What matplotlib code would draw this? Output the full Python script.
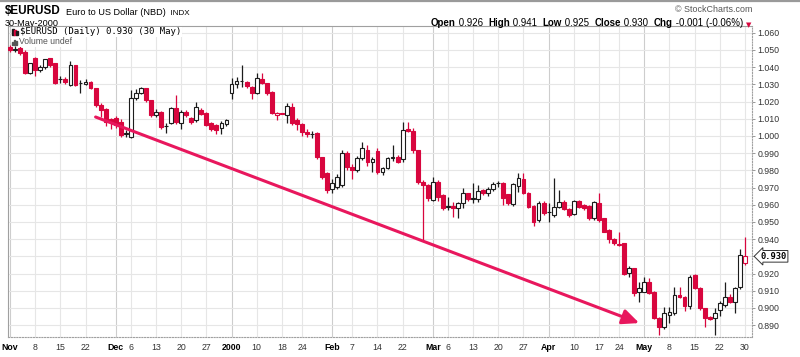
import numpy as np
import pandas as pd
import matplotlib
matplotlib.use('Agg')
import matplotlib.pyplot as plt
from matplotlib.lines import Line2D
from matplotlib.patches import Rectangle

plt.rcParams['font.family'] = ['Liberation Sans', 'DejaVu Sans']

# ---- data ----
holidays = ['1999-11-25', '2000-01-17', '2000-02-21', '2000-04-21', '2000-05-29']
dates = pd.bdate_range('1999-11-01', '2000-05-30', freq='C', holidays=holidays)

opens = [1.0519, 1.0500, 1.0510, 1.0490, 1.0368, 1.0451, 1.0384, 1.0399, 1.0451, 1.0422,
         1.0329, 1.0330, 1.0297, 1.0413, 1.0305, 1.0302, 1.0316, 1.0277, 1.0180, 1.0155,
         1.0097, 1.0103, 1.0083, 1.0012, 0.9996, 1.0219, 1.0248, 1.0277, 1.0209, 1.0122,
         1.0141, 1.0056, 1.0074, 1.0161, 1.0074, 1.0141, 1.0103, 1.0093, 1.0151, 1.0132,
         1.0074, 1.0064, 1.0045, 1.0070,
         1.0247, 1.0301, 1.0318, 1.0315, 1.0286, 1.0251, 1.0329, 1.0309, 1.0257, 1.0124,
         1.0133, 1.0121, 1.0170, 1.0092, 1.0067, 1.0025, 1.0011, 1.0015, 0.9879, 0.9782,
         0.9694, 0.9704, 0.9714, 0.9899, 0.9821, 0.9801, 0.9870, 0.9918, 0.9851, 0.9914,
         0.9792, 0.9811, 0.9870, 0.9879, 0.9863, 1.0040, 1.0030, 0.9918, 0.9734, 0.9715,
         0.9628, 0.9734, 0.9657, 0.9589, 0.9590, 0.9579, 0.9608, 0.9666, 0.9631, 0.9631,
         0.9684, 0.9666, 0.9689, 0.9724, 0.9724, 0.9660, 0.9604, 0.9710, 0.9748, 0.9670,
         0.9593, 0.9511, 0.9612,
         0.9555, 0.9540, 0.9589, 0.9618, 0.9573, 0.9546, 0.9624, 0.9598, 0.9592, 0.9521,
         0.9608, 0.9521, 0.9453, 0.9399, 0.9365, 0.9375, 0.9201, 0.9230, 0.9094,
         0.9094, 0.9152, 0.9094, 0.8939, 0.8891, 0.8960, 0.8968, 0.9075, 0.9065, 0.9011,
         0.9191, 0.9114, 0.8997, 0.8945, 0.8939, 0.8988, 0.9017, 0.9065, 0.9036, 0.9120,
         0.9260]
highs = [1.0530, 1.0520, 1.0520, 1.0500, 1.0425, 1.0460, 1.0410, 1.0450, 1.0455, 1.0425,
         1.0350, 1.0340, 1.0438, 1.0415, 1.0325, 1.0330, 1.0320, 1.0280, 1.0190, 1.0165,
         1.0105, 1.0115, 1.0100, 1.0035, 1.0267, 1.0270, 1.0285, 1.0280, 1.0210, 1.0155,
         1.0145, 1.0075, 1.0170, 1.0238, 1.0150, 1.0150, 1.0110, 1.0195, 1.0160, 1.0140,
         1.0080, 1.0070, 1.0085, 1.0100,
         1.0334, 1.0345, 1.0412, 1.0320, 1.0290, 1.0364, 1.0364, 1.0310, 1.0260, 1.0141,
         1.0135, 1.0189, 1.0189, 1.0105, 1.0075, 1.0040, 1.0030, 1.0020, 0.9880, 0.9790,
         0.9752, 0.9780, 0.9918, 0.9910, 0.9835, 0.9885, 0.9965, 0.9945, 0.9880, 0.9930,
         0.9820, 0.9880, 0.9947, 0.9890, 1.0083, 1.0083, 1.0045, 0.9920, 0.9745, 0.9720,
         0.9760, 0.9745, 0.9660, 0.9647, 0.9618, 0.9618, 0.9695, 0.9670, 0.9724, 0.9715,
         0.9690, 0.9705, 0.9735, 0.9738, 0.9730, 0.9665, 0.9725, 0.9782, 0.9786, 0.9675,
         0.9600, 0.9620, 0.9620,
         0.9608, 0.9753, 0.9686, 0.9625, 0.9580, 0.9630, 0.9630, 0.9605, 0.9600, 0.9620,
         0.9666, 0.9525, 0.9460, 0.9405, 0.9443, 0.9380, 0.9245, 0.9235, 0.9152,
         0.9182, 0.9172, 0.9100, 0.8945, 0.9006, 0.9006, 0.9124, 0.9124, 0.9070, 0.9191,
         0.9195, 0.9120, 0.9000, 0.8955, 0.8997, 0.9040, 0.9149, 0.9080, 0.9120, 0.9340,
         0.9410]
lows = [1.0490, 1.0490, 1.0470, 1.0360, 1.0360, 1.0350, 1.0370, 1.0390, 1.0400, 1.0300,
        1.0310, 1.0300, 1.0290, 1.0290, 1.0248, 1.0295, 1.0270, 1.0170, 1.0110, 1.0060,
        1.0040, 1.0045, 0.9995, 0.9995, 0.9990, 1.0210, 1.0245, 1.0200, 1.0110, 1.0110,
        1.0040, 1.0015, 1.0070, 1.0070, 1.0040, 1.0110, 1.0070, 1.0080, 1.0120, 1.0055,
        1.0030, 1.0010, 1.0010, 1.0060,
        1.0212, 1.0280, 1.0286, 1.0280, 1.0212, 1.0245, 1.0300, 1.0240, 1.0130, 1.0090,
        1.0125, 1.0073, 1.0065, 1.0035, 1.0000, 0.9995, 0.9990, 0.9865, 0.9750, 0.9670,
        0.9666, 0.9690, 0.9704, 0.9800, 0.9750, 0.9790, 0.9860, 0.9825, 0.9793, 0.9780,
        0.9770, 0.9805, 0.9855, 0.9840, 0.9850, 1.0025, 0.9900, 0.9720, 0.9395, 0.9620,
        0.9620, 0.9620, 0.9570, 0.9571, 0.9531, 0.9521, 0.9579, 0.9620, 0.9608, 0.9618,
        0.9655, 0.9650, 0.9680, 0.9705, 0.9600, 0.9600, 0.9595, 0.9676, 0.9660, 0.9580,
        0.9476, 0.9500, 0.9540,
        0.9501, 0.9530, 0.9580, 0.9570, 0.9530, 0.9540, 0.9580, 0.9570, 0.9510, 0.9510,
        0.9500, 0.9440, 0.9380, 0.9365, 0.9360, 0.9190, 0.9180, 0.9070, 0.9036,
        0.9090, 0.9080, 0.8935, 0.8843, 0.8880, 0.8910, 0.8960, 0.9060, 0.8985, 0.8995,
        0.9110, 0.8990, 0.8891, 0.8930, 0.8843, 0.8955, 0.9005, 0.9030, 0.8972, 0.9110,
        0.9250]
closes = [1.0500, 1.0503, 1.0480, 1.0364, 1.0422, 1.0384, 1.0403, 1.0446, 1.0413, 1.0310,
          1.0330, 1.0316, 1.0413, 1.0297, 1.0306, 1.0316, 1.0277, 1.0180, 1.0151, 1.0083,
          1.0080, 1.0064, 1.0006, 1.0015, 1.0219, 1.0248, 1.0277, 1.0209, 1.0122, 1.0141,
          1.0054, 1.0058, 1.0161, 1.0083, 1.0141, 1.0122, 1.0083, 1.0170, 1.0128, 1.0064,
          1.0039, 1.0035, 1.0074, 1.0093,
          1.0301, 1.0319, 1.0320, 1.0292, 1.0247, 1.0334, 1.0309, 1.0251, 1.0135, 1.0132,
          1.0128, 1.0174, 1.0073, 1.0069, 1.0025, 1.0011, 1.0013, 0.9879, 0.9763, 0.9685,
          0.9724, 0.9763, 0.9899, 0.9821, 0.9801, 0.9870, 0.9928, 0.9850, 0.9866, 0.9792,
          0.9811, 0.9870, 0.9880, 0.9850, 1.0034, 1.0030, 0.9918, 0.9734, 0.9715, 0.9640,
          0.9734, 0.9647, 0.9579, 0.9590, 0.9580, 0.9608, 0.9666, 0.9631, 0.9637, 0.9682,
          0.9666, 0.9689, 0.9720, 0.9725, 0.9640, 0.9608, 0.9719, 0.9753, 0.9666, 0.9589,
          0.9501, 0.9612, 0.9550,
          0.9556, 0.9589, 0.9618, 0.9575, 0.9540, 0.9624, 0.9589, 0.9580, 0.9521, 0.9618,
          0.9511, 0.9443, 0.9399, 0.9375, 0.9373, 0.9197, 0.9230, 0.9085, 0.9114,
          0.9152, 0.9089, 0.8939, 0.8891, 0.8968, 0.8975, 0.9075, 0.9065, 0.9011, 0.9182,
          0.9114, 0.8997, 0.8939, 0.8935, 0.8968, 0.9027, 0.9065, 0.9036, 0.9114, 0.9306,
          0.9300]
prior_close = 1.0525

tick_dates = ['1999-11-01', '1999-11-08', '1999-11-15', '1999-11-22', '1999-12-01', '1999-12-06',
              '1999-12-13', '1999-12-20', '1999-12-27', '2000-01-03', '2000-01-10', '2000-01-18',
              '2000-01-24', '2000-02-01', '2000-02-07', '2000-02-14', '2000-02-22', '2000-03-01',
              '2000-03-06', '2000-03-13', '2000-03-20', '2000-03-27', '2000-04-03', '2000-04-10',
              '2000-04-17', '2000-04-24', '2000-05-01', '2000-05-08', '2000-05-15', '2000-05-22',
              '2000-05-30']
tick_labels = ['Nov', '8', '15', '22', 'Dec', '6', '13', '20', '27', '2000', '10', '18', '24',
               'Feb', '7', '14', '22', 'Mar', '6', '13', '20', '27', 'Apr', '10', '17', '24',
               'May', '8', '15', '22', '30']
month_labels = ['Nov', 'Dec', '2000', 'Feb', 'Mar', 'Apr', 'May']

trend_start = ('1999-11-24', 1.0110)
trend_end = ('2000-04-28', 0.8912)

# ---- figure ----
W, H = 800, 357
fig = plt.figure(figsize=(W / 100, H / 100), dpi=100)
fig.patch.set_facecolor('white')

def fx(px): return px / W
def fy(py): return 1 - py / H

ax = fig.add_axes([fx(8), fy(337), fx(752) - fx(8), fy(26) - fy(337)])

x = np.arange(len(dates))
o, h, l, c = map(np.array, (opens, highs, lows, closes))
prev = np.r_[prior_close, c[:-1]]
RED = '#d8063e'
BLK = '#1c1c1c'
edge = np.where(c < prev, RED, BLK)
fill = np.where(c < o, edge, 'white')

ax.vlines(x, l, h, colors=edge, lw=0.9, zorder=3)
body = np.maximum(np.abs(c - o), 0.0003)
ax.bar(x, body, bottom=np.minimum(o, c), width=0.76, color=fill, edgecolor=edge,
       linewidth=0.8, zorder=4)

# gridlines
tick_pos = [dates.get_loc(pd.Timestamp(d)) for d in tick_dates]
for p, lab in zip(tick_pos, tick_labels):
    ax.axvline(p, color='#cdcdcd' if lab in month_labels else '#e6e6e6', lw=0.8, zorder=1)
yt = np.round(np.arange(0.89, 1.0601, 0.01), 3)
for v in yt:
    ax.axhline(v, color='#e6e6e6', lw=0.8, zorder=1)

ax.set_xlim(-0.4, len(dates) + 0.4)
ax.set_ylim(0.8831, 1.0639)

# the last-price tag takes the place of the tick label at its level
last_level = round(c[-1], 2)
ax.yaxis.tick_right()
ax.set_yticks(yt)
ax.set_yticklabels(['' if abs(v - last_level) < 1e-6 else '%.3f' % v for v in yt])
ax.tick_params(axis='y', length=2, width=0.6, color='#888888', labelsize=6.3,
               labelcolor='#333333', pad=2)
ax.set_xticks(tick_pos)
ax.set_xticklabels(tick_labels)
ax.tick_params(axis='x', length=0, labelsize=6.3, labelcolor='#333333', pad=4)
for t in ax.get_xticklabels():
    if t.get_text() in month_labels:
        t.set_fontweight('bold')
        t.set_color('black')

for s in ('left', 'top'):
    ax.spines[s].set_color('#a0a0a0')
    ax.spines[s].set_linewidth(0.8)
for s in ('right', 'bottom'):
    ax.spines[s].set_color('#a0a0a0')
    ax.spines[s].set_linewidth(0.8)
    ax.spines[s].set_linestyle((0, (1, 1.5)))

# trend arrow
ax.annotate('', xy=(dates.get_loc(pd.Timestamp(trend_end[0])), trend_end[1]),
            xytext=(dates.get_loc(pd.Timestamp(trend_start[0])), trend_start[1]),
            arrowprops=dict(arrowstyle='-|>,head_length=1.0,head_width=0.45', color='#e8175d',
                            lw=2.2, shrinkA=0, shrinkB=0), zorder=5)

# last price tag
ax.annotate('%.3f' % c[-1], xy=(1, c[-1]), xycoords=('axes fraction', 'data'),
            xytext=(6, 0), textcoords='offset points', ha='left', va='center',
            fontsize=6.3, family='DejaVu Sans Mono', weight='bold', annotation_clip=False,
            bbox=dict(boxstyle='larrow,pad=0.15', fc='white', ec='#333333', lw=0.7))

# ---- header ----
fig.add_artist(Line2D([0, 1], [fy(0.8), fy(0.8)], color='#9a9a9a', lw=1.6))
t = fig.text(fx(5), fy(11), '$EURUSD', fontsize=8.4, weight='bold', va='center')
t2 = ax.annotate('  Euro to US Dollar (NBD)', xy=(1, 0), xycoords=t, va='bottom',
                 fontsize=6.6, annotation_clip=False)
ax.annotate('  INDX', xy=(1, 0), xycoords=t2, va='bottom', fontsize=5.8,
            annotation_clip=False)
fig.text(fx(5), fy(23), dates[-1].strftime('%d-%b-%Y'), fontsize=6.6, va='center')
fig.text(fx(752), fy(10), '\u00a9 StockCharts.com', fontsize=6.4, color='#555555',
         ha='right', va='center')

chg = c[-1] - c[-2]
parts = [('Open', 'bold'), (' %.3f  ' % o[-1], 'normal'),
         ('High', 'bold'), (' %.3f  ' % h[-1], 'normal'),
         ('Low', 'bold'), (' %.3f  ' % l[-1], 'normal'),
         ('Close', 'bold'), (' %.3f  ' % c[-1], 'normal'),
         ('Chg', 'bold'), (' %.3f (%.2f%%) ' % (chg, chg / c[-2] * 100), 'normal')]
prev_t = fig.text(fx(431), fy(23), parts[0][0], fontsize=7.0, weight='bold', va='center')
for s, w in parts[1:]:
    prev_t = ax.annotate(s, xy=(1, 0), xycoords=prev_t, va='bottom', fontsize=7.0,
                         weight=w, annotation_clip=False)
ax.annotate('\u25bc', xy=(1, 0), xycoords=prev_t, va='bottom', fontsize=5, color=RED,
            family='DejaVu Sans', annotation_clip=False)

# in-chart legend
fig.text(fx(20), fy(32), '$EURUSD (Daily) %.3f (%s)' % (c[-1], dates[-1].strftime('%d %b')),
         fontsize=6.5, family='DejaVu Sans Mono', va='center', zorder=10,
         bbox=dict(fc='white', ec='none', pad=0.6))
for k, (hh, col) in enumerate([(6, BLK), (5, RED), (4, BLK)]):
    fig.add_artist(Rectangle((fx(12 + 2.2 * k), fy(35)), 1.5 / W, hh / H, color=col, zorder=11))
fig.text(fx(19), fy(42), 'Volume undef', fontsize=6.2, color='#555555', va='center', zorder=10,
         bbox=dict(fc='white', ec='none', pad=0.4))
for k, hh in enumerate([3, 5, 4]):
    fig.add_artist(Rectangle((fx(12 + 2 * k), fy(45)), 1.3 / W, hh / H, color='#555555',
                             zorder=11))

fig.savefig('out.png', dpi=100, facecolor='white')
